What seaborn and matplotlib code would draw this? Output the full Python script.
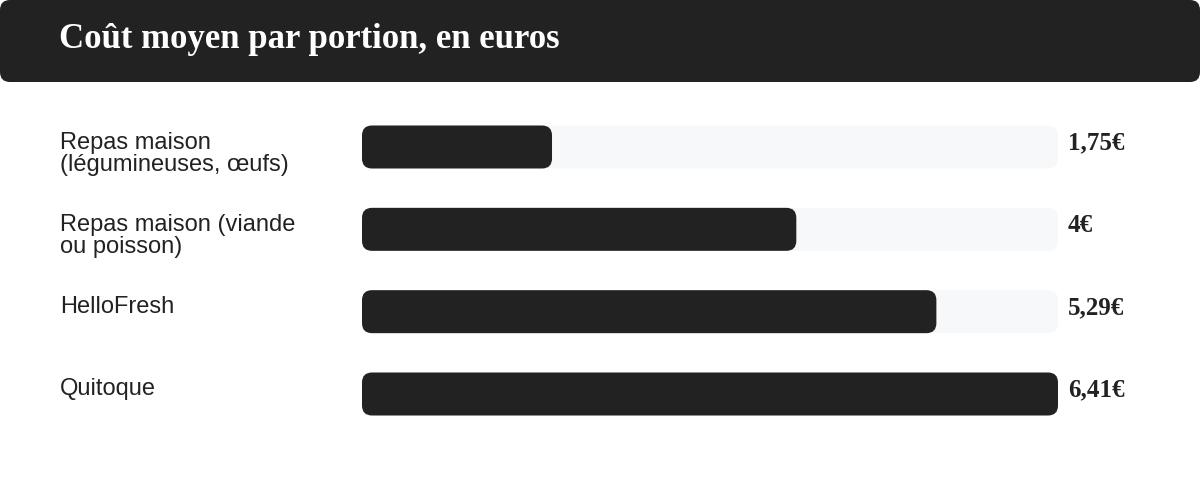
import matplotlib
matplotlib.use("Agg")
import matplotlib.pyplot as plt
from matplotlib.patches import FancyBboxPatch
import matplotlib.transforms as mtransforms
import seaborn as sns
import pandas as pd

# ---- data ----
categories = ["Repas maison\n(légumineuses, œufs)",
              "Repas maison (viande\nou poisson)",
              "HelloFresh",
              "Quitoque"]
values = [1.75, 4.0, 5.29, 6.41]
value_labels = ["1,75€", "4€", "5,29€", "6,41€"]
title = "Coût moyen par portion, en euros"

DARK = "#222222"
TRACK = "#f7f8fa"

W, H = 1200, 483
fig = plt.figure(figsize=(W / 100, H / 100), dpi=100)
fig.patch.set_facecolor("white")

# title banner
banner = FancyBboxPatch((0, (H - 82) / H), 1.0, 82 / H,
                        boxstyle="round,pad=0,rounding_size=%f" % (10 / W),
                        mutation_aspect=W / H,
                        transform=fig.transFigure, facecolor=DARK,
                        edgecolor="none", zorder=0)
fig.patches.append(banner)
fig.text(59 / W, 1 - 39 / H, title, color="white",
         family=["Liberation Serif", "DejaVu Serif"], weight="bold",
         fontsize=25, ha="left", va="center")

# bar axes: x 362..1058 px, category centers at 147,229,312,394 px
step = 82.33
x0, x1 = 362, 1058
y_top = 147 - step / 2
y_bot = 394 + step / 2
ax = fig.add_axes([x0 / W, 1 - y_bot / H, (x1 - x0) / W, (y_bot - y_top) / H])

df = pd.DataFrame({"cat": categories, "val": values,
                   "full": [max(values)] * len(values)})
bar_h = 43 / step
sns.barplot(data=df, y="cat", x="full", color=TRACK, width=bar_h,
            saturation=1, ax=ax, orient="h")
sns.barplot(data=df, y="cat", x="val", color=DARK, width=bar_h,
            saturation=1, ax=ax, orient="h")

ax.set_xlim(0, max(values))
ax.set_ylim(len(categories) - 0.5, -0.5)

# rounded corners: replace rectangles
xpp = max(values) / (x1 - x0)          # x units per pixel
ypp = 1.0 / step                       # y units per pixel
radius_px = 10
rects = list(ax.patches)
for r in rects:
    x, y = r.get_x(), r.get_y()
    w, h = r.get_width(), r.get_height()
    fc = r.get_facecolor()
    r.remove()
    p = FancyBboxPatch((x, y), w, h,
                       boxstyle="round,pad=0,rounding_size=%f" % (radius_px * xpp),
                       mutation_aspect=ypp / xpp,
                       facecolor=fc, edgecolor="none")
    ax.add_patch(p)

ax.set_axis_off()

# category labels (left) and value labels (right)
trans_left = mtransforms.blended_transform_factory(fig.transFigure, ax.transData)
for i, (c, vl) in enumerate(zip(categories, value_labels)):
    ax.text(60 / W, i - bar_h / 2 + 6 * ypp, c, transform=trans_left,
            ha="left", va="top", fontsize=17, color=DARK,
            family=["Liberation Sans", "DejaVu Sans"], linespacing=1.02,
            clip_on=False)
    ax.text(1068 / W, i - 4 * ypp, vl, transform=trans_left,
            ha="left", va="center", fontsize=18, color=DARK, weight="bold",
            family=["Liberation Serif", "DejaVu Serif"], clip_on=False)

fig.savefig("out.png", dpi=100, facecolor="white")
